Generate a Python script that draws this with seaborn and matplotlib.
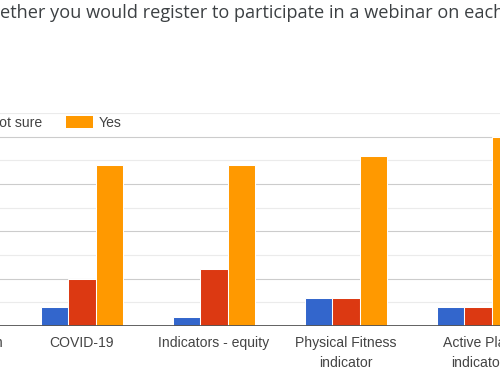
import matplotlib
matplotlib.use("Agg")
import matplotlib.pyplot as plt
import seaborn as sns
import pandas as pd

# ---- data ----
categories = ["Sport Curriculum", "COVID-19", "Indicators - equity",
              "Physical Fitness\nindicator", "Active Play\nindicator"]
responses = ["No", "Not sure", "Yes"]
no_counts = [2, 2, 1, 3, 2]
not_sure_counts = [4, 5, 6, 3, 2]
yes_counts = [18, 17, 17, 18, 20]
colors = ["#3366cc", "#dc3912", "#ff9900"]
title = ("Please indicate whether you would register to participate in a "
         "webinar on each of the following topics.")
title_hidden_prefix = "Please indicate wh"

rows = []
for i, c in enumerate(categories):
    for r, vals in zip(responses, [no_counts, not_sure_counts, yes_counts]):
        rows.append({"topic": c, "response": r, "count": vals[i]})
df = pd.DataFrame(rows)

sns.set_theme(style="white")
plt.rcParams["font.family"] = ["Liberation Sans", "DejaVu Sans"]

W, H = 500, 380
fig = plt.figure(figsize=(5, 3.8), dpi=100)
# the visible picture is a crop of a wider chart: the axes extend past the figure edges
ax = fig.add_axes([-116 / W, 1 - 326 / H, 660 / W, (326 - 113) / H])

sns.barplot(data=df, x="topic", y="count", hue="response", order=categories,
            hue_order=responses, palette=colors, width=0.62, saturation=1,
            edgecolor="white", linewidth=0.75, ax=ax)

ax.set_xlim(-0.5, len(categories) - 0.5)
ax.set_ylim(0, 22.5)
ax.set_yticks([0, 5, 10, 15, 20])
ax.set_yticks([2.5, 7.5, 12.5, 17.5, 22.5], minor=True)
ax.set_yticklabels([])
ax.grid(which="major", axis="y", color="#cccccc", lw=0.8)
ax.grid(which="minor", axis="y", color="#ebebeb", lw=0.8)
ax.set_axisbelow(True)
for s in ax.spines.values():
    s.set_visible(False)
ax.axhline(0, color="#555555", lw=1.3, zorder=5)
ax.set_xlabel("")
ax.set_ylabel("")
ax.tick_params(axis="x", length=0, pad=7.5, labelsize=10.1, labelcolor="#444444")
ax.tick_params(axis="y", length=0, which="both")
for t in ax.get_xticklabels():
    t.set_linespacing(1.55)

handles, labels = ax.get_legend_handles_labels()
ax.get_legend().remove()
ly = 1 - 123 / H
leg = fig.legend(handles, labels, loc="center left", bbox_to_anchor=(0, ly),
                 ncol=3, frameon=False, fontsize=10.1, handlelength=1.93,
                 handleheight=0.9, handletextpad=0.43, columnspacing=1.7,
                 borderpad=0, borderaxespad=0, labelcolor="#444444")
for h in leg.legend_handles:
    h.set_linewidth(0)

tfam = ["Open Sans", "DejaVu Sans"]
tt = fig.text(0, 1 - 18.5 / H, title, fontsize=13.1, family=tfam,
              color="#3c4043", va="baseline", ha="left")
tp = fig.text(0, 0, title_hidden_prefix, fontsize=13.1, family=tfam)

fig.canvas.draw()
r = fig.canvas.get_renderer()
x0 = leg.legend_handles[2].get_window_extent(r).x0
leg.set_bbox_to_anchor(((65.7 - x0) / W, ly), transform=fig.transFigure)
pw = tp.get_window_extent(r).width
tp.remove()
tt.set_x(-pw / W)

fig.savefig("out.png", dpi=100)
